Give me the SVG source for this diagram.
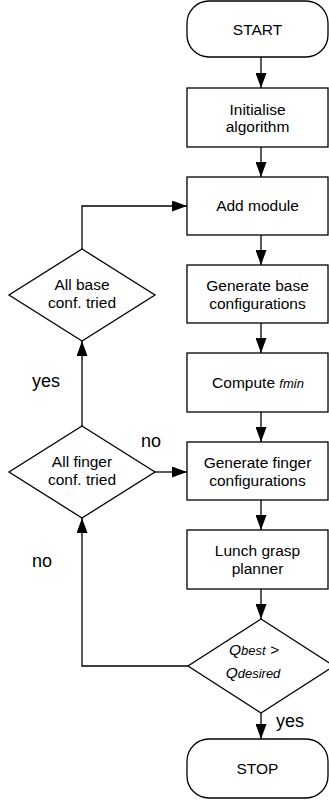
<svg xmlns="http://www.w3.org/2000/svg" width="329" height="803" viewBox="0 0 329 803">
  <style>
    .shape { fill: #ffffff; stroke: #000000; stroke-width: 1.3; }
    .wire { fill: none; stroke: #000000; stroke-width: 1.3; }
    .txt { font-family: "Liberation Sans", Arial, sans-serif; font-size: 15.5px; fill: #000000; text-anchor: middle; }
    .lbl { font-family: "Liberation Sans", Arial, sans-serif; font-size: 18px; fill: #000000; }
    .it { font-style: italic; }
    .sub { font-size: 13px; }
  </style>
  <defs>
    <marker id="arrow" viewBox="0 0 15 11" refX="15" refY="5.5" markerWidth="15" markerHeight="11" markerUnits="userSpaceOnUse" orient="auto">
      <path d="M0,0 L15,5.5 L0,11 Z" fill="#000000"/>
    </marker>
  </defs>

  <!-- connectors -->
  <g id="connectors">
    <line class="wire" x1="261" y1="57" x2="261" y2="88" marker-end="url(#arrow)"/>
    <line class="wire" x1="261" y1="147" x2="261" y2="177" marker-end="url(#arrow)"/>
    <line class="wire" x1="261" y1="235" x2="261" y2="265" marker-end="url(#arrow)"/>
    <line class="wire" x1="261" y1="323" x2="261" y2="353" marker-end="url(#arrow)"/>
    <line class="wire" x1="261" y1="412" x2="261" y2="442" marker-end="url(#arrow)"/>
    <line class="wire" x1="261" y1="500" x2="261" y2="530" marker-end="url(#arrow)"/>
    <line class="wire" x1="261" y1="589" x2="261" y2="619" marker-end="url(#arrow)"/>
    <line class="wire" x1="261" y1="713" x2="261" y2="739" marker-end="url(#arrow)"/>
    <polyline class="wire" points="82,249 82,206 187,206" marker-end="url(#arrow)"/>
    <line class="wire" x1="82" y1="426" x2="82" y2="341" marker-end="url(#arrow)"/>
    <line class="wire" x1="155" y1="472" x2="187" y2="472" marker-end="url(#arrow)"/>
    <polyline class="wire" points="188,666 82,666 82,518" marker-end="url(#arrow)"/>
    <text class="lbl" x="32" y="387">yes</text>
    <text class="lbl" x="141" y="447">no</text>
    <text class="lbl" x="32" y="567">no</text>
    <text class="lbl" x="276" y="727">yes</text>
  </g>

  <g id="start">
    <rect class="shape" x="187" y="1" width="141" height="56" rx="22" ry="22"/>
    <text class="txt" x="257.5" y="35">START</text>
  </g>

  <g id="init">
    <rect class="shape" x="187" y="88" width="141" height="59"/>
    <text class="txt" x="257.5" y="115">Initialise</text>
    <text class="txt" x="257.5" y="132">algorithm</text>
  </g>

  <g id="add-module">
    <rect class="shape" x="187" y="177" width="141" height="58"/>
    <text class="txt" x="257.5" y="211">Add module</text>
  </g>

  <g id="gen-base">
    <rect class="shape" x="187" y="265" width="141" height="58"/>
    <text class="txt" x="257.5" y="291">Generate base</text>
    <text class="txt" x="257.5" y="309">configurations</text>
  </g>

  <g id="compute">
    <rect class="shape" x="187" y="353" width="141" height="59"/>
    <text class="txt" x="258" y="388">Compute <tspan class="it sub">fmin</tspan></text>
  </g>

  <g id="gen-finger">
    <rect class="shape" x="187" y="442" width="141" height="58"/>
    <text class="txt" x="257.5" y="468">Generate finger</text>
    <text class="txt" x="257.5" y="486">configurations</text>
  </g>

  <g id="planner">
    <rect class="shape" x="187" y="530" width="141" height="59"/>
    <text class="txt" x="257.5" y="556">Lunch grasp</text>
    <text class="txt" x="257.5" y="574">planner</text>
  </g>

  <g id="quality-check">
    <polygon class="shape" points="261,619 334,666 261,713 188,666"/>
    <text class="txt it" x="254" y="655">Q<tspan class="sub">best</tspan> &gt;</text>
    <text class="txt it" x="253" y="678">Q<tspan class="sub">desired</tspan></text>
  </g>

  <g id="stop">
    <rect class="shape" x="187" y="739" width="141" height="59" rx="22" ry="22"/>
    <text class="txt" x="257.5" y="774">STOP</text>
  </g>

  <g id="base-tried">
    <polygon class="shape" points="82,249 155,295 82,341 9,295"/>
    <text class="txt" x="82" y="290">All base</text>
    <text class="txt" x="82" y="308">conf. tried</text>
  </g>

  <g id="finger-tried">
    <polygon class="shape" points="82,426 155,472 82,518 9,472"/>
    <text class="txt" x="82" y="467">All finger</text>
    <text class="txt" x="82" y="485">conf. tried</text>
  </g>
</svg>
